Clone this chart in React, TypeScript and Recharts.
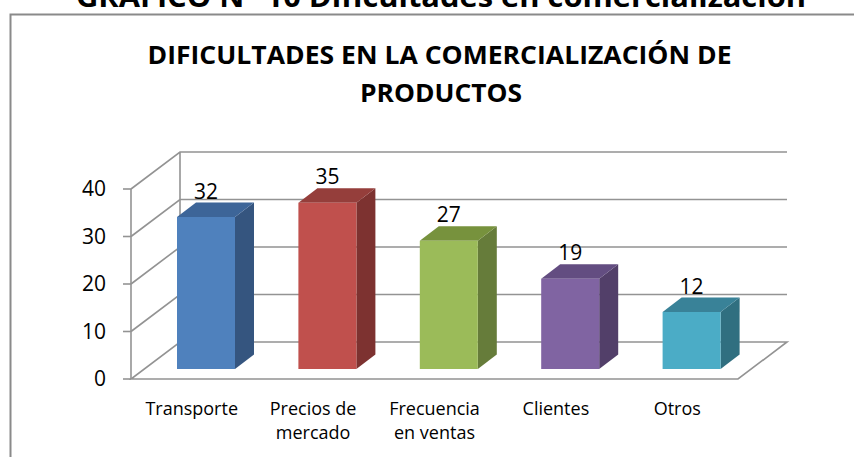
import { BarChart, Bar, XAxis, YAxis, CartesianGrid, Cell, LabelList } from "recharts";

const categories = ["Transporte", "Precios de mercado", "Frecuencia en ventas", "Clientes", "Otros"];
const values = [32, 35, 27, 19, 12];
const yTicks = [0, 10, 20, 30, 40];

const frontColors = ["#4F81BD", "#C0504D", "#9BBB59", "#8064A2", "#4BACC6"];
const topColors = ["#3D6598", "#953E3B", "#77923D", "#634D81", "#398298"];
const sideColors = ["#35557F", "#7D3230", "#667C3A", "#523F69", "#306F80"];

const title = ["DIFICULTADES EN LA COMERCIALIZACIÓN DE", "PRODUCTOS"];
const pageTitle = "GRÁFICO N° 10 Dificultades en comercialización";

const data = categories.map((name, i) => ({ name, value: values[i] }));

// 3d look: depth of the walls and where the bars sit inside that depth
const DX = 49;
const DY = 37;
const SHIFT_X = 14;
const SHIFT_Y = 10;
const BAR_DX = 19;
const BAR_DY = 14.5;

const GRID = "#939393";
const FONT = "'Open Sans', 'Liberation Sans', sans-serif";

function wrap(s: string, max: number) {
  const out: string[] = [];
  let cur = "";
  for (const w of s.split(" ")) {
    if (cur && (cur + " " + w).length > max) {
      out.push(cur);
      cur = w;
    } else cur = cur ? cur + " " + w : w;
  }
  if (cur) out.push(cur);
  return out;
}

function GridLevel(props: any) {
  const { x1, y1, x2, y, height } = props;
  const bottom = y + height;
  const bx = x1 + DX;
  const by = y1 - DY;
  let d = "";
  if (Math.abs(y1 - bottom) < 1) {
    d = `M${x1},${y1} H${x2} L${x2 + DX},${by} H${bx} Z`;
  } else {
    d = `M${x1},${y1} L${bx},${by} H${x2 + DX}`;
  }
  if (Math.abs(y1 - y) < 1) d += ` M${bx},${by} V${bottom - DY}`;
  return <path key={props.key} d={d} fill="none" stroke={GRID} strokeWidth={1.6} />;
}

function Bar3D(props: any) {
  const { x, y, width, height, index } = props;
  const fx = x + SHIFT_X;
  const fy = y - SHIFT_Y;
  return (
    <g>
      <polygon
        points={`${fx + width},${fy} ${fx + width + BAR_DX},${fy - BAR_DY} ${fx + width + BAR_DX},${fy + height - BAR_DY} ${fx + width},${fy + height}`}
        fill={sideColors[index]}
      />
      <polygon
        points={`${fx},${fy} ${fx + BAR_DX},${fy - BAR_DY} ${fx + width + BAR_DX},${fy - BAR_DY} ${fx + width},${fy}`}
        fill={topColors[index]}
      />
      <rect x={fx} y={fy} width={width} height={height} fill={frontColors[index]} />
    </g>
  );
}

function ValueLabel(props: any) {
  const { x, y, width, value } = props;
  return (
    <text
      x={x + SHIFT_X + width / 2}
      y={y - SHIFT_Y - BAR_DY - 4}
      textAnchor="middle"
      fontFamily={FONT}
      fontSize={21}
      fill="#000"
    >
      {value}
    </text>
  );
}

function CategoryTick(props: any) {
  const { x, y, payload } = props;
  const lines = wrap(String(payload.value), 11);
  return (
    <text x={x} y={y} textAnchor="middle" fontFamily={FONT} fontSize={18} fill="#000">
      {lines.map((l, i) => (
        <tspan key={i} x={x} dy={i === 0 ? 36 : 24}>
          {l}
        </tspan>
      ))}
    </text>
  );
}

export default function App() {
  return (
    <div style={{ position: "absolute", left: 0, top: 0, width: 854, height: 457, background: "#fff", overflow: "hidden" }}>
      <svg width={854} height={457} style={{ position: "absolute", left: 0, top: 0 }}>
        <text x={441} y={7} textAnchor="middle" fontFamily={FONT} fontWeight={700} fontSize={28} textLength={730} lengthAdjust="spacingAndGlyphs">
          {pageTitle}
        </text>
        <path d="M10.5,457 V14.5 H854" fill="none" stroke="#8a8a8a" strokeWidth={2} />
        <text x={439.5} y={64.3} textAnchor="middle" fontFamily={FONT} fontWeight={700} fontSize={25.6} textLength={584} lengthAdjust="spacingAndGlyphs">
          {title[0]}
        </text>
        <text x={441} y={101.7} textAnchor="middle" fontFamily={FONT} fontWeight={700} fontSize={25.6} textLength={162} lengthAdjust="spacingAndGlyphs">
          {title[1]}
        </text>
      </svg>
      <div style={{ position: "absolute", left: 0, top: 0 }}>
        <BarChart width={854} height={457} data={data} margin={{ top: 189, right: 116, bottom: 38, left: 0 }}>
          <CartesianGrid vertical={false} horizontal={GridLevel} stroke={GRID} />
          <XAxis
            dataKey="name"
            height={40}
            axisLine={false}
            tickLine={false}
            tickSize={0}
            tickMargin={0}
            interval={0}
            tick={CategoryTick}
          />
          <YAxis
            width={131}
            domain={[0, 40]}
            ticks={yTicks}
            interval={0}
            tickSize={8}
            tickMargin={17}
            axisLine={{ stroke: GRID, strokeWidth: 1.6 }}
            tickLine={{ stroke: GRID, strokeWidth: 1.6 }}
            tick={{ fill: "#000", fontSize: 21, fontFamily: FONT }}
          />
          <Bar dataKey="value" barSize={58} shape={Bar3D} isAnimationActive={false}>
            {data.map((d, i) => (
              <Cell key={d.name} fill={frontColors[i]} />
            ))}
            <LabelList dataKey="value" content={ValueLabel} />
          </Bar>
        </BarChart>
      </div>
    </div>
  );
}
